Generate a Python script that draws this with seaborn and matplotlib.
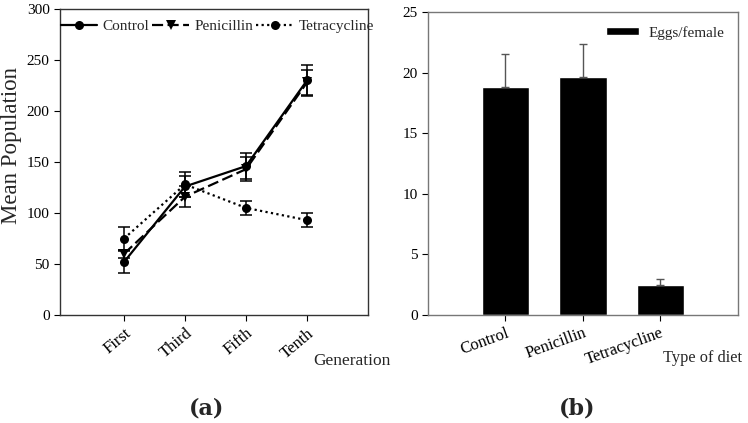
import matplotlib
matplotlib.use("Agg")
import matplotlib.pyplot as plt
import pandas as pd
import seaborn as sns

# Generation data (panel a)
generations = ["First", "Third", "Fifth", "Tenth"]
control_mean = [52, 126, 146, 230]
control_err = [11, 10, 13, 15]
penicillin_mean = [60, 116, 143, 228]
penicillin_err = [4, 10, 12, 12]
tetracycline_mean = [75, 128, 105, 93]
tetracycline_err = [11, 12, 7, 7]

# Eggs per female (panel b)
diets = ["Control", "Penicillin", "Tetracycline"]
eggs_mean = [18.8, 19.6, 2.5]
eggs_err = [2.7, 2.8, 0.5]

sns.set_theme(style="ticks")
plt.rcParams['font.family'] = ['Liberation Serif', 'DejaVu Serif']

fig = plt.figure(figsize=(7.48, 4.23), dpi=100)
ax1 = fig.add_axes([0.0802, 0.2553, 0.4118, 0.7234])
ax2 = fig.add_axes([0.5722, 0.2553, 0.4144, 0.7163])

# Panel (a): line plot
pos = [1, 2, 3, 4]
df = pd.DataFrame({
    'pos': pos * 3,
    'mean': control_mean + penicillin_mean + tetracycline_mean,
    'err': control_err + penicillin_err + tetracycline_err,
    'diet': ['Control'] * 4 + ['Penicillin'] * 4 + ['Tetracycline'] * 4,
})
sns.lineplot(data=df, x='pos', y='mean', style='diet', color='black',
             markers={'Control': 'o', 'Penicillin': 'v', 'Tetracycline': 'o'},
             dashes={'Control': '', 'Penicillin': (5, 2), 'Tetracycline': (1, 1.5)},
             markersize=6.5, markeredgewidth=0, linewidth=1.6, ax=ax1)
for diet, grp in df.groupby('diet'):
    ax1.errorbar(grp['pos'], grp['mean'], yerr=grp['err'], fmt='none',
                 ecolor='black', elinewidth=1.1, capsize=4, capthick=1.1)

ax1.set_xlim(-0.05, 5)
ax1.set_ylim(0, 300)
ax1.set_yticks([0, 50, 100, 150, 200, 250, 300])
ax1.set_xticks(pos)
ax1.set_xticklabels(generations, rotation=40, ha='right', rotation_mode='anchor')
ax1.set_xlabel('')
ax1.set_ylabel('')
ax1.legend(loc='upper center', ncol=3, frameon=False, fontsize=11,
           handlelength=2.4, columnspacing=0.2, handletextpad=0.35,
           bbox_to_anchor=(0.51, 1.0), borderaxespad=0.3)

# Panel (b): bar plot
sns.barplot(x=diets, y=eggs_mean, color='black', width=0.61, ax=ax2,
            label='Eggs/female', saturation=1)
ax2.errorbar(range(3), eggs_mean, yerr=[[0] * 3, eggs_err], fmt='none',
             ecolor='#555555', elinewidth=1, capsize=3, capthick=1)
ax2.set_xlim(-1, 3)
ax2.set_ylim(0, 25)
ax2.set_yticks([0, 5, 10, 15, 20, 25])
ax2.set_xticks(range(3))
ax2.set_xticklabels(diets, rotation=20, ha='right', rotation_mode='anchor')
ax2.set_xlabel('')
ax2.legend(loc='upper right', frameon=False, fontsize=11, handlelength=2.2,
           handleheight=0.5, handletextpad=0.6)

for ax in (ax1, ax2):
    ax.tick_params(axis='y', labelsize=11, length=4, width=0.8, colors='black')
    ax.tick_params(axis='x', labelsize=12, length=4, width=0.8, colors='black')
    for sp in ax.spines.values():
        sp.set_visible(True)
        sp.set_linewidth(1)
for sp in ax1.spines.values():
    sp.set_color('#333333')
for sp in ax2.spines.values():
    sp.set_color('#777777')

fig.text(12 / 748, 1 - 145 / 423, 'Mean Population', rotation=90,
         ha='center', va='center', fontsize=16.5)
fig.text(352 / 748, 1 - 361 / 423, 'Generation', ha='center', va='center', fontsize=12.5)
fig.text(703 / 748, 1 - 358 / 423, 'Type of diet', ha='center', va='center', fontsize=11.8)
fig.text(207 / 748, 1 - 408 / 423, '(a)', ha='center', va='center', fontsize=16,
         fontweight='bold', family=['DejaVu Serif'])
fig.text(577 / 748, 1 - 408 / 423, '(b)', ha='center', va='center', fontsize=16,
         fontweight='bold', family=['DejaVu Serif'])

fig.savefig('out.png', dpi=100)
